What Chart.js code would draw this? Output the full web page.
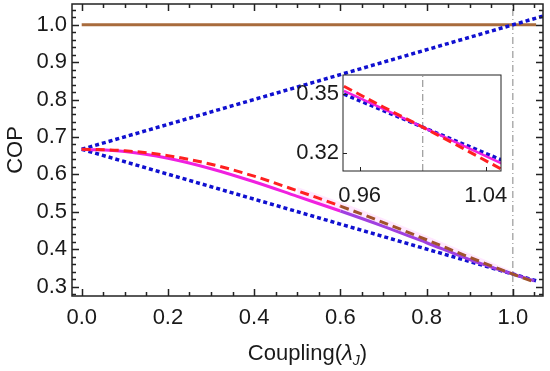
<!DOCTYPE html>
<html>
<head>
<meta charset="utf-8">
<script src="https://cdn.jsdelivr.net/npm/chart.js@4.4.1/dist/chart.umd.min.js"></script>
<style>
  html, body { margin: 0; padding: 0; background: #fff; }
  #wrap { position: relative; width: 550px; height: 371px; }
  #main { position: absolute; left: 0; top: 0; }
  #inset { position: absolute; left: 280px; top: 68px; }
</style>
</head>
<body>
<div id="wrap">
  <canvas id="main" width="550" height="371"></canvas>
  <canvas id="inset" width="230" height="140"></canvas>
</div>
<script>
// main panel data
const couplingX   = [0, 0.1, 0.2, 0.3, 0.4, 0.5, 0.6, 0.7, 0.8, 0.9, 1.0, 1.05];
const copDashed   = [0.667, 0.663, 0.650, 0.627, 0.595, 0.556, 0.515, 0.471, 0.425, 0.378, 0.333, 0.312];
const copSolid    = [0.667, 0.661, 0.643, 0.615, 0.580, 0.541, 0.502, 0.461, 0.417, 0.372, 0.333, 0.315];
const bandX       = [0.5, 0.6, 0.7, 0.8, 0.9, 1.0, 1.05];
const bandTop     = [0.566, 0.526, 0.482, 0.436, 0.388, 0.341, 0.318];
const lowerBoundX = [0, 1.055];
const lowerBound  = [0.667, 0.315];
const upperBoundX = [0, 1.07];
const upperBound  = [0.667, 1.023];
const carnotX     = [0, 1.054];
const carnot      = [1.0, 1.0];
const markerX     = 1.0;

const xMajor = [0, 0.2, 0.4, 0.6, 0.8, 1.0];
const xMinor = [0.05, 0.1, 0.15, 0.25, 0.3, 0.35, 0.45, 0.5, 0.55, 0.65, 0.7, 0.75, 0.85, 0.9, 0.95, 1.05];
const yMajor = [0.3, 0.4, 0.5, 0.6, 0.7, 0.8, 0.9, 1.0];
const yMinor = [0.28, 0.32, 0.34, 0.36, 0.38, 0.42, 0.44, 0.46, 0.48, 0.52, 0.54, 0.56, 0.58,
                0.62, 0.64, 0.66, 0.68, 0.72, 0.74, 0.76, 0.78, 0.82, 0.84, 0.86, 0.88,
                0.92, 0.94, 0.96, 0.98, 1.02, 1.04];

// inset data (zoom around the crossing point)
const insetX      = [0.95, 0.975, 1.0, 1.025, 1.05];
const insetDashed = [0.354, 0.3435, 0.3333, 0.3228, 0.312];
const insetSolid  = [0.3517, 0.3425, 0.3333, 0.3242, 0.315];
const insetBound  = [0.350, 0.3417, 0.3333, 0.325, 0.3167];
const insetXTicks = [0.96, 1.04];
const insetYTicks = [0.32, 0.35];

const FONT = "'Liberation Sans', Arial, sans-serif";
Chart.defaults.font.family = FONT;
Chart.defaults.font.size = 22;
Chart.defaults.color = '#1a1a1a';

const RED = '#ff2020', BROWN = '#a0522d', MAGENTA = '#f020e0', PURPLE = '#a040e0';
const BLUE = '#1010d0', CARNOT = '#a86b3c', GRAY = '#999';

const pts = (xs, ys) => xs.map((x, i) => ({x: x, y: ys[i]}));

// frame + inward ticks drawn from the scales
const frameTicks = {
    id: 'frameTicks',
    beforeDatasetsDraw(chart, args, opts) {
        const {ctx, chartArea: a} = chart;
        ctx.save();
        ctx.fillStyle = '#fff';
        ctx.fillRect(a.left, a.top, a.right - a.left, a.bottom - a.top);
        ctx.restore();
    },
    afterDatasetsDraw(chart, args, opts) {
        const {ctx, chartArea: a, scales: {x, y}} = chart;
        ctx.save();
        ctx.strokeStyle = opts.color;
        ctx.lineWidth = opts.width;
        ctx.beginPath();
        const xt = (vals, len) => vals.forEach(v => {
            const px = Math.round(x.getPixelForValue(v)) + 0.5;
            ctx.moveTo(px, a.bottom); ctx.lineTo(px, a.bottom - len);
            if (opts.allSides) { ctx.moveTo(px, a.top); ctx.lineTo(px, a.top + len); }
        });
        const yt = (vals, len) => vals.forEach(v => {
            const py = Math.round(y.getPixelForValue(v)) + 0.5;
            ctx.moveTo(a.left, py); ctx.lineTo(a.left + len, py);
            if (opts.allSides) { ctx.moveTo(a.right, py); ctx.lineTo(a.right - len, py); }
        });
        xt(opts.xMajor, opts.major); xt(opts.xMinor, opts.minor);
        yt(opts.yMajor, opts.major); yt(opts.yMinor, opts.minor);
        ctx.stroke();
        ctx.strokeRect(a.left, a.top, a.right - a.left, a.bottom - a.top);
        ctx.restore();
    }
};

// axis titles for the main panel (subscript needs manual text)
const axisTitles = {
    id: 'axisTitles',
    afterDraw(chart) {
        const ctx = chart.ctx;
        ctx.save();
        ctx.fillStyle = '#1a1a1a';
        ctx.textBaseline = 'alphabetic';
        const parts = [
            {t: 'Coupling(', f: '22px ' + FONT, dy: 0},
            {t: 'λ', f: 'italic 22px ' + FONT, dy: 0},
            {t: 'J', f: 'italic 14px ' + FONT, dy: 5},
            {t: ')', f: '22px ' + FONT, dy: 0}
        ];
        let w = 0;
        parts.forEach(p => { ctx.font = p.f; p.w = ctx.measureText(p.t).width; w += p.w; });
        const a = chart.chartArea;
        let cx = (a.left + a.right) / 2 - w / 2;
        parts.forEach(p => {
            ctx.font = p.f;
            ctx.fillText(p.t, cx, 360 + p.dy);
            cx += p.w;
        });
        ctx.translate(22, (a.top + a.bottom) / 2);
        ctx.rotate(-Math.PI / 2);
        ctx.textAlign = 'center';
        ctx.font = '22px ' + FONT;
        ctx.fillText('COP', 0, 0);
        ctx.restore();
    }
};

// keep the plot box fixed: no extra room for overhanging tick labels
const fixX = h => s => { s.height = h; s.paddingLeft = 0; s.paddingRight = 0; };
const fixY = w => s => { s.width = w; s.paddingTop = 0; s.paddingBottom = 0; };

const yMinMain = 0.2746, yMaxMain = 1.0554;

new Chart(document.getElementById('main').getContext('2d'), {
    type: 'line',
    data: {
        datasets: [
            {
                data: pts(couplingX, copDashed),
                borderColor: RED, borderWidth: 3, borderDash: [9, 5],
                segment: { borderColor: c => c.p0.parsed.x >= 0.55 ? BROWN : undefined },
                cubicInterpolationMode: 'monotone'
            },
            {
                data: pts(couplingX, copSolid),
                borderColor: MAGENTA, borderWidth: 3,
                segment: { borderColor: c => c.p0.parsed.x >= 0.55 ? PURPLE : undefined },
                cubicInterpolationMode: 'monotone'
            },
            {
                data: pts(lowerBoundX, lowerBound),
                borderColor: BLUE, borderWidth: 3.5, borderDash: [4, 3]
            },
            {
                data: pts(upperBoundX, upperBound),
                borderColor: BLUE, borderWidth: 3.5, borderDash: [4, 3]
            },
            {
                data: pts(carnotX, carnot),
                borderColor: CARNOT, borderWidth: 3
            },
            {
                data: pts(bandX, bandTop),
                borderWidth: 0, borderColor: 'rgba(0,0,0,0)',
                backgroundColor: 'rgba(255,140,255,0.2)',
                fill: 1, cubicInterpolationMode: 'monotone'
            },
            {
                data: [{x: markerX, y: yMinMain}, {x: markerX, y: yMaxMain}],
                borderColor: GRAY, borderWidth: 1.2, borderDash: [7, 3, 1, 3]
            }
        ]
    },
    options: {
        responsive: false,
        animation: false,
        devicePixelRatio: 1,
        elements: { point: { radius: 0 } },
        layout: { padding: { top: 4, right: 7, left: 0, bottom: 0 } },
        scales: {
            x: {
                type: 'linear', min: -0.0225, max: 1.070,
                afterBuildTicks: s => { s.ticks = xMajor.map(v => ({value: v})); },
                afterFit: fixX(75),
                ticks: { callback: v => v.toFixed(1), padding: 9, maxRotation: 0, autoSkip: false },
                grid: { display: false, drawTicks: false },
                border: { display: false }
            },
            y: {
                type: 'linear', min: yMinMain, max: yMaxMain,
                afterBuildTicks: s => { s.ticks = yMajor.map(v => ({value: v})); },
                afterFit: fixY(72),
                ticks: { callback: v => v.toFixed(1), padding: 5, autoSkip: false },
                grid: { display: false, drawTicks: false },
                border: { display: false }
            }
        },
        plugins: {
            legend: { display: false },
            tooltip: { enabled: false },
            frameTicks: {
                color: '#222', width: 1.5, major: 7, minor: 4, allSides: true,
                xMajor: xMajor, xMinor: xMinor, yMajor: yMajor, yMinor: yMinor
            }
        }
    },
    plugins: [frameTicks, axisTitles]
});

const yMinInset = 0.3111, yMaxInset = 0.3597;

new Chart(document.getElementById('inset').getContext('2d'), {
    type: 'line',
    data: {
        datasets: [
            {
                data: pts(insetX, insetDashed),
                borderColor: RED, borderWidth: 3, borderDash: [9, 5]
            },
            {
                data: pts(insetX, insetSolid),
                borderColor: MAGENTA, borderWidth: 2.5
            },
            {
                data: pts(insetX, insetBound),
                borderColor: BLUE, borderWidth: 3.5, borderDash: [4, 3]
            },
            {
                data: [{x: markerX, y: yMinInset}, {x: markerX, y: yMaxInset}],
                borderColor: GRAY, borderWidth: 1.2, borderDash: [7, 3, 1, 3]
            }
        ]
    },
    options: {
        responsive: false,
        animation: false,
        devicePixelRatio: 1,
        elements: { point: { radius: 0 } },
        layout: { padding: { top: 7, right: 9, left: 0, bottom: 0 } },
        scales: {
            x: {
                type: 'linear', min: 0.9494, max: 1.0497,
                afterBuildTicks: s => { s.ticks = insetXTicks.map(v => ({value: v})); },
                afterFit: fixX(37),
                ticks: { callback: v => v.toFixed(2), padding: 12, maxRotation: 0, autoSkip: false },
                grid: { display: false, drawTicks: false },
                border: { display: false }
            },
            y: {
                type: 'linear', min: yMinInset, max: yMaxInset,
                afterBuildTicks: s => { s.ticks = insetYTicks.map(v => ({value: v})); },
                afterFit: fixY(63),
                ticks: { callback: v => v.toFixed(2), padding: 4, autoSkip: false },
                grid: { display: false, drawTicks: false },
                border: { display: false }
            }
        },
        plugins: {
            legend: { display: false },
            tooltip: { enabled: false },
            frameTicks: {
                color: '#222', width: 1, major: 4, minor: 0, allSides: false,
                xMajor: insetXTicks, xMinor: [], yMajor: insetYTicks, yMinor: []
            }
        }
    },
    plugins: [frameTicks]
});
</script>
</body>
</html>
